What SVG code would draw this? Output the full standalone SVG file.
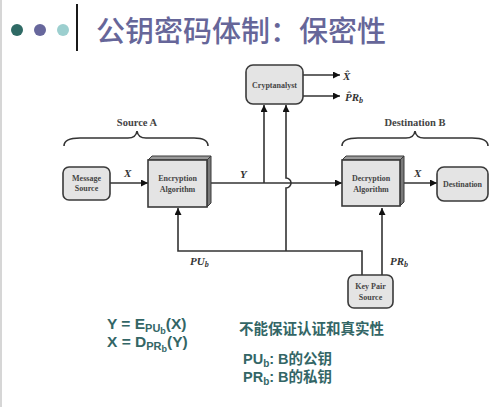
<svg xmlns="http://www.w3.org/2000/svg" width="493" height="407" viewBox="0 0 493 407">
<defs>
<style>
.box{fill:#e4e4e4;stroke:#3a3a3a;stroke-width:1.6}
.top{fill:#9a9a9a;stroke:#3a3a3a;stroke-width:1}
.side{fill:#7a7a7a;stroke:#3a3a3a;stroke-width:1}
.ln{fill:none;stroke:#333;stroke-width:1.6}
.lbl{font-family:"Liberation Serif",serif;font-weight:bold;fill:#444;font-size:8px;text-anchor:middle}
.it{font-family:"Liberation Serif",serif;font-weight:bold;font-style:italic;fill:#333;font-size:11px}
.grp{font-family:"Liberation Serif",serif;font-weight:bold;fill:#444;font-size:10.5px;text-anchor:middle}
.eq{font-family:"Liberation Sans",sans-serif;font-weight:bold;fill:#336666}
.cn{font-family:"Liberation Sans","Noto Sans CJK SC",sans-serif;font-weight:bold;fill:#336666}
</style>
<marker id="ah" viewBox="0 0 10 10" refX="10" refY="5" markerWidth="7" markerHeight="7" markerUnits="userSpaceOnUse" orient="auto">
<path d="M0,0 L10,5 L0,10 z" fill="#111"/>
</marker>
</defs>
<rect width="493" height="407" fill="#fff"/>
<line x1="1" y1="0" x2="1" y2="407" stroke="#c8c8c8" stroke-width="1.5"/>
<g id="title">
<circle cx="17" cy="30" r="6" fill="#2f6a65"/>
<circle cx="40" cy="30" r="6" fill="#67679c"/>
<circle cx="63" cy="30" r="6" fill="#9ccfcf"/>
<line x1="77" y1="4" x2="77" y2="51" stroke="#000" stroke-width="1.8"/>
<text x="96" y="42" font-family="'Noto Sans CJK SC',sans-serif" font-size="29" font-weight="500" fill="#666699">公钥密码体制：保密性</text>
</g>
<g id="connectors">
<path class="ln" d="M110,183 H148" marker-end="url(#ah)"/>
<path class="ln" d="M211,183 H342" marker-end="url(#ah)"/>
<path class="ln" d="M264,183 V105" marker-end="url(#ah)"/>
<path class="ln" d="M286,251 V188 A5,5 0 0 0 286,178 V105" marker-end="url(#ah)"/>
<path class="ln" d="M404,183 H437" marker-end="url(#ah)"/>
<path class="ln" d="M303,75 H340" marker-end="url(#ah)"/>
<path class="ln" d="M303,96 H340" marker-end="url(#ah)"/>
<path class="ln" d="M362,275 V251 H178 V208" marker-end="url(#ah)"/>
<path class="ln" d="M382,275 V208" marker-end="url(#ah)"/>
<path class="ln" d="M64,146 Q64,138 80,138 H128 Q136,138 137,131 Q138,138 146,138 H194 Q208,138 208,146" stroke-width="1.3"/>
<path class="ln" d="M342,146 Q342,138 358,138 H406 Q414,138 415,131 Q416,138 424,138 H472 Q488,138 488,146" stroke-width="1.3"/>
<text class="it" x="124" y="177">X</text>
<text class="it" x="240" y="178">Y</text>
<text class="it" x="414" y="177">X</text>
<text class="it" x="190" y="265">PU<tspan font-size="8" dy="2">b</tspan></text>
<text class="it" x="390" y="265">PR<tspan font-size="8" dy="2">b</tspan></text>
<text class="it" x="343" y="80">X&#770;</text>
<text class="it" x="345" y="101">P&#770;R<tspan font-size="8" dy="2">b</tspan></text>
</g>
<g id="sourceA"><text class="grp" x="137" y="126">Source A</text></g>
<g id="destB"><text class="grp" x="415" y="126">Destination B</text></g>
<g id="msgsource">
<rect class="box" x="63" y="167" width="47" height="33" rx="6"/>
<text class="lbl" x="86.5" y="181">Message</text>
<text class="lbl" x="86.5" y="191">Source</text>
</g>
<g id="encryption">
<path class="top" d="M148,160 L152,156 H211 L207,160 z"/>
<path class="side" d="M207,160 L211,156 V203 L207,207 z"/>
<rect class="box" x="148" y="160" width="59" height="47"/>
<text class="lbl" x="177.5" y="181">Encryption</text>
<text class="lbl" x="177.5" y="192">Algorithm</text>
</g>
<g id="cryptanalyst">
<rect class="box" x="246" y="65" width="57" height="39" rx="7"/>
<text class="lbl" x="274.5" y="88">Cryptanalyst</text>
</g>
<g id="decryption">
<path class="top" d="M342,160 L346,156 H404 L400,160 z"/>
<path class="side" d="M400,160 L404,156 V202 L400,206 z"/>
<rect class="box" x="342" y="160" width="58" height="46"/>
<text class="lbl" x="371" y="181">Decryption</text>
<text class="lbl" x="371" y="192">Algorithm</text>
</g>
<g id="destination">
<rect class="box" x="437" y="167" width="51" height="34" rx="7"/>
<text class="lbl" x="462.5" y="187">Destination</text>
</g>
<g id="keypair">
<rect class="box" x="348" y="275" width="45" height="33" rx="6"/>
<text class="lbl" x="370.5" y="289">Key Pair</text>
<text class="lbl" x="370.5" y="300">Source</text>
</g>
<g id="notes">
<text class="eq" x="107" y="329" font-size="15.5">Y = E<tspan font-size="11" dy="3">PU</tspan><tspan font-size="9" dy="2">b</tspan><tspan font-size="15.5" dy="-5">(X)</tspan></text>
<text class="eq" x="107" y="347" font-size="15.5">X = D<tspan font-size="11" dy="3">PR</tspan><tspan font-size="9" dy="2">b</tspan><tspan font-size="15.5" dy="-5">(Y)</tspan></text>
<text class="cn" x="239" y="334" font-size="14.5">不能保证认证和真实性</text>
<text class="cn" x="243" y="364" font-size="14.5">PU<tspan font-size="10" dy="3">b</tspan><tspan dy="-3">: B的公钥</tspan></text>
<text class="cn" x="243" y="382" font-size="14.5">PR<tspan font-size="10" dy="3">b</tspan><tspan dy="-3">: B的私钥</tspan></text>
</g>
</svg>
